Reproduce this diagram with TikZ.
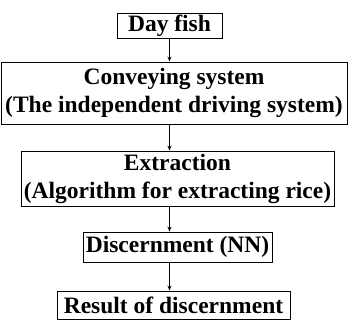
\documentclass[tikz,border=0pt]{standalone}
\usepackage{fontspec}
\setmainfont{Liberation Serif}
\usetikzlibrary{positioning,arrows.meta}

\begin{document}
\begin{tikzpicture}[x=1pt,y=1pt,
    stepbox/.style={draw, line width=0.9pt, inner sep=0pt, align=center,
        font=\fontsize{23.5}{28}\selectfont\bfseries},
    arr/.style={line width=0.8pt, -{Stealth[length=5pt,width=4pt]}}]
    \useasboundingbox (0,0) rectangle (349,-320);

    % Boxes
    \node[stepbox, minimum width=105, minimum height=25] (fish) at (169.5,-25.5) {Day fish};
    \node[stepbox, minimum width=346, minimum height=62] (convey) at (174,-93)
        {Conveying system\\(The independent driving system)};
    \node[stepbox, minimum width=313, minimum height=55] (extract) at (177.5,-178.5)
        {Extraction\\(Algorithm for extracting rice)};
    \node[stepbox, minimum width=189, minimum height=30] (discern) at (177.5,-247) {Discernment (NN)};
    \node[stepbox, minimum width=233, minimum height=28] (result) at (173.5,-305) {Result of discernment};

    % Arrows
    \draw[arr] (fish.south) -- (fish.south |- convey.north);
    \draw[arr] (fish.south |- convey.south) -- (fish.south |- extract.north);
    \draw[arr] (fish.south |- extract.south) -- (fish.south |- discern.north);
    \draw[arr] (fish.south |- discern.south) -- (fish.south |- result.north);
\end{tikzpicture}
\end{document}
